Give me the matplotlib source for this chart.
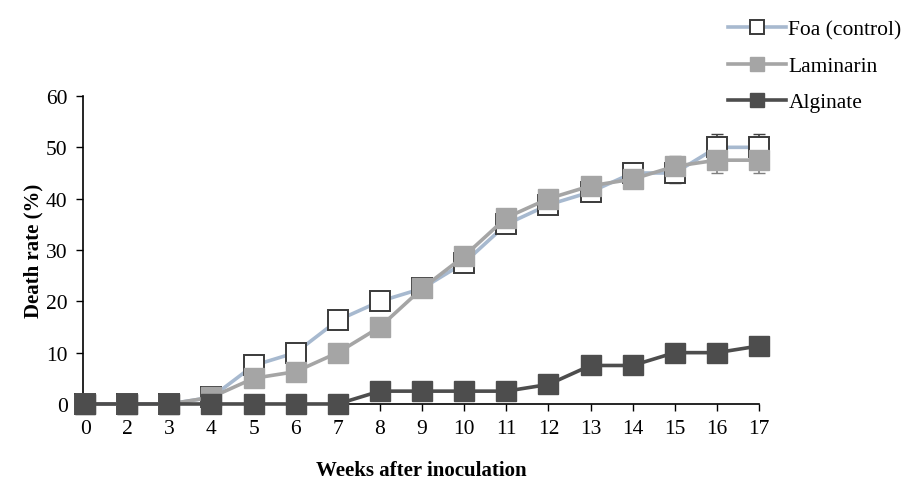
import matplotlib
matplotlib.use("Agg")
import matplotlib.pyplot as plt
import numpy as np

weeks = ["0", "2", "3", "4", "5", "6", "7", "8", "9", "10", "11", "12", "13", "14", "15", "16", "17"]
foa = [0, 0, 0, 1.3, 7.5, 10, 16.3, 20, 22.5, 27.5, 35, 38.8, 41.3, 45, 45, 50, 50]
foa_err = [0, 0, 0, 0, 0, 0, 0, 0, 0, 0, 0, 1.2, 1.5, 1.8, 2.0, 2.5, 2.5]
laminarin = [0, 0, 0, 1.3, 5, 6.3, 10, 15, 22.5, 28.8, 36.3, 40, 42.5, 43.8, 46.3, 47.5, 47.5]
lam_err = [0, 0, 0, 0, 0, 0, 0, 0, 0, 0, 0, 1.2, 1.5, 1.8, 2.0, 2.5, 2.5]
alginate = [0, 0, 0, 0, 0, 0, 0, 2.5, 2.5, 2.5, 2.5, 3.8, 7.5, 7.5, 10, 10, 11.3]

plt.rcParams["font.family"] = ["Liberation Serif", "DejaVu Serif"]

fig = plt.figure(figsize=(9.16, 4.85), dpi=100)
ax = fig.add_axes([0.0906, 0.165, 0.738, 0.635])
x = np.arange(len(weeks))

ax.errorbar(x, foa, yerr=foa_err, fmt="none", ecolor="#404040", elinewidth=1.2, capsize=4, zorder=2, clip_on=False)
ax.errorbar(x, laminarin, yerr=lam_err, fmt="none", ecolor="#7f7f7f", elinewidth=1.2, capsize=4, zorder=2, clip_on=False)
ax.plot(x, foa, "-s", color="#A7B9CF", lw=2.6, ms=14, mfc="white", mec="#3a3a3a", mew=1.4,
        label="Foa (control)", zorder=3, clip_on=False)
ax.plot(x, laminarin, "-s", color="#A5A5A5", lw=2.6, ms=14, mfc="#A5A5A5", mec="#A5A5A5",
        label="Laminarin", zorder=4, clip_on=False)
ax.plot(x, alginate, "-s", color="#4D4D4D", lw=2.6, ms=14, mfc="#4D4D4D", mec="#4D4D4D",
        label="Alginate", zorder=5, clip_on=False)

ax.set_xlim(-0.05, 16)
ax.set_ylim(0, 60)
ax.set_xticks(x)
ax.set_xticklabels(weeks)
ax.set_yticks(range(0, 61, 10))
ax.tick_params(labelsize=15.5, length=5, width=1, direction="out", pad=6)
for s in ["top", "right"]:
    ax.spines[s].set_visible(False)
for s in ["left", "bottom"]:
    ax.spines[s].set_linewidth(1.2)

ax.set_xlabel("Weeks after inoculation", fontsize=15, fontweight="bold", labelpad=16)
ax.set_ylabel("Death rate (%)", fontsize=15, fontweight="bold", labelpad=2)

fig.legend(loc="upper left", bbox_to_anchor=(0.795, 0.957), frameon=False, fontsize=15.5,
           borderpad=0, borderaxespad=0, handlelength=2.7, handletextpad=0.1,
           labelspacing=0.75, markerscale=0.75)

fig.savefig("out.png", dpi=100)
